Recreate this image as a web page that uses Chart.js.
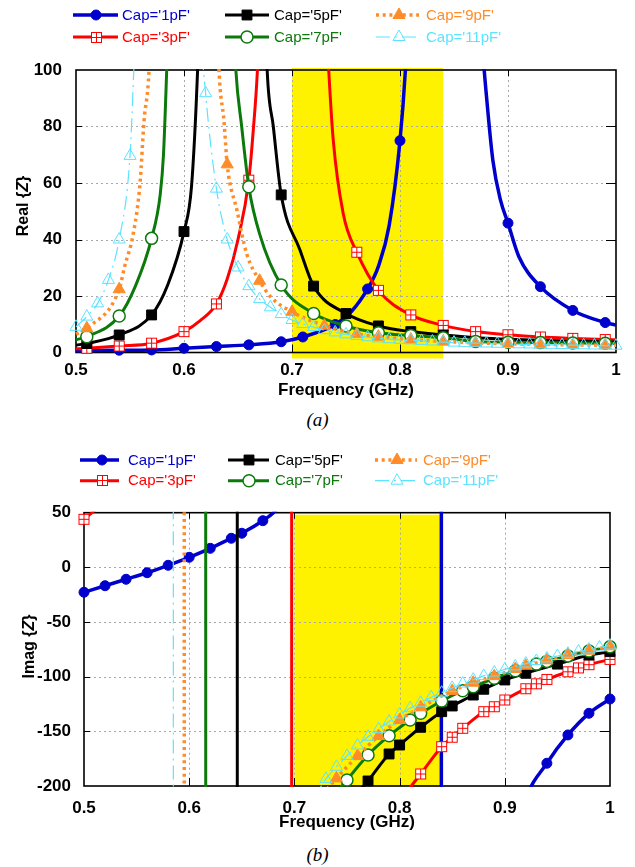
<!DOCTYPE html>
<html>
<head>
<meta charset="utf-8">
<script src="https://cdn.jsdelivr.net/npm/chart.js"></script>
<style>
  html, body { margin: 0; padding: 0; background: #fff; }
  body { width: 635px; height: 867px; position: relative; overflow: hidden; }
  .box { position: absolute; left: 0; width: 635px; height: 400px; }
  .cap { position: absolute; left: 0; width: 635px; text-align: center;
         font: italic 19px "Liberation Serif", "Times New Roman", serif; }
</style>
</head>
<body>
<div class="box" style="top:0"><canvas id="reChart" width="635" height="400"></canvas></div>
<div class="cap" style="top:409px">(a)</div>
<div class="box" style="top:440px"><canvas id="imChart" width="635" height="400"></canvas></div>
<div class="cap" style="top:844px">(b)</div>
<script>
// axes
const freqTicks = [0.5, 0.6, 0.7, 0.8, 0.9, 1.0];
const freqLabels = ['0.5', '0.6', '0.7', '0.8', '0.9', '1'];
const reTicks = [0, 20, 40, 60, 80, 100];
const imTicks = [-200, -150, -100, -50, 0, 50];
const band = [0.7, 0.84];   // highlighted band, GHz

const caps = ["Cap='1pF'", "Cap='3pF'", "Cap='5pF'", "Cap='7pF'", "Cap='9pF'", "Cap='11pF'"];

// [freq GHz, value, marker?]  (values past the axis limits are where the curve leaves the frame)
const re1pF = [[0.50,0.6,0],[0.54,0.8,1],[0.57,0.9,1],[0.60,1.5,1],[0.63,2.1,1],[0.66,2.7,1],[0.69,3.8,1],[0.71,5.5,1],[0.74,9.9,1],[0.755,14.5,0],[0.77,22.5,1],[0.78,30.5,0],[0.79,45,0],[0.80,75,1],[0.805,100,0],[0.81,140,0],[0.82,250,0],[0.84,900,0],[0.86,260,0],[0.872,140,0],[0.877,105,0],[0.88,91,0],[0.886,68,0],[0.893,54,0],[0.90,45.8,1],[0.91,34,0],[0.93,23.3,1],[0.96,14.9,1],[0.99,10.6,1],[1.0,9.7,0]];
const re3pF = [[0.50,1.3,0],[0.51,1.5,1],[0.54,2.3,1],[0.57,3.3,1],[0.60,7.4,1],[0.615,11.3,0],[0.63,17.2,1],[0.64,26,0],[0.65,40,0],[0.66,61,1],[0.664,78,0],[0.668,100,0],[0.675,170,0],[0.70,700,0],[0.725,170,0],[0.734,100,0],[0.738,76,0],[0.7475,49,0],[0.76,35.5,1],[0.78,22,1],[0.81,13.3,1],[0.84,9.6,1],[0.87,7.4,1],[0.90,6.3,1],[0.93,5.5,1],[0.96,5.0,1],[0.99,4.6,1],[1.0,4.5,0]];
const re5pF = [[0.50,2.6,0],[0.51,3.2,1],[0.54,6.2,1],[0.57,13.3,1],[0.585,24,0],[0.60,42.8,1],[0.607,59,0],[0.6126,100,0],[0.62,190,0],[0.645,800,0],[0.67,190,0],[0.677,100,0],[0.6827,80,0],[0.69,55.8,1],[0.7074,36.3,0],[0.72,23.5,1],[0.75,13.8,1],[0.78,9.4,1],[0.81,7.4,1],[0.84,6.2,1],[0.87,5.2,0],[0.90,4.7,0],[0.93,4.3,0],[0.96,4.0,0],[0.99,3.8,0],[1.0,3.7,0]];
const re7pF = [[0.50,4.5,0],[0.51,5.6,1],[0.54,12.9,1],[0.555,23.5,0],[0.57,40.4,1],[0.578,56,0],[0.581,70,0],[0.584,100,0],[0.59,170,0],[0.615,800,0],[0.64,170,0],[0.648,100,0],[0.6534,80,0],[0.66,58.7,1],[0.67,42,0],[0.69,23.9,1],[0.72,13.8,1],[0.75,9.4,1],[0.78,7.0,1],[0.81,6.0,1],[0.84,5.2,1],[0.87,3.9,1],[0.90,3.6,1],[0.93,3.5,1],[0.96,3.4,1],[0.99,3.3,1],[1.0,3.2,0]];
const re9pF = [[0.50,6.5,0],[0.51,8.6,1],[0.54,22.4,1],[0.545,30.4,0],[0.553,42,0],[0.5593,60,0],[0.563,82,0],[0.5676,100,0],[0.575,190,0],[0.60,800,0],[0.625,190,0],[0.6324,100,0],[0.637,82,0],[0.64,66.6,1],[0.649,50.4,0],[0.658,35,0],[0.67,25.4,1],[0.68,19.8,0],[0.70,14.4,1],[0.73,9.5,1],[0.76,6.6,1],[0.78,5.6,1],[0.81,4.6,1],[0.84,3.9,1],[0.87,3.4,1],[0.90,3.1,1],[0.93,2.9,1],[0.96,2.7,1],[0.99,2.6,1],[1.0,2.6,0]];
const re11pF = [[0.50,9.1,1],[0.51,12.7,1],[0.52,17.4,1],[0.53,25.7,1],[0.54,40,1],[0.55,69.6,1],[0.553,95,0],[0.556,125,0],[0.565,250,0],[0.585,800,0],[0.605,250,0],[0.614,125,0],[0.62,91.8,1],[0.63,58,1],[0.64,40,1],[0.65,30.1,1],[0.66,23.5,1],[0.67,18.9,1],[0.68,16,1],[0.69,13.6,1],[0.70,11.5,1],[0.71,10.1,1],[0.72,9.0,1],[0.73,7.9,1],[0.74,7.1,1],[0.75,6.4,1],[0.76,5.9,1],[0.77,5.4,1],[0.78,5.0,1],[0.79,4.7,1],[0.80,4.5,1],[0.81,4.3,1],[0.82,4.1,1],[0.83,3.9,1],[0.84,3.7,1],[0.85,3.5,1],[0.86,3.4,1],[0.87,3.3,1],[0.88,3.2,1],[0.89,3.1,1],[0.90,3.0,1],[0.91,2.9,1],[0.92,2.85,1],[0.93,2.8,1],[0.94,2.7,1],[0.95,2.65,1],[0.96,2.6,1],[0.97,2.55,1],[0.98,2.5,1],[0.99,2.45,1],[1.0,2.4,1]];

const im1pF = [[0.50,-22.8,1],[0.52,-16.8,1],[0.54,-10.9,1],[0.56,-4.9,1],[0.58,1.9,1],[0.60,9.2,1],[0.62,17.4,1],[0.64,26.6,1],[0.65,31.2,1],[0.67,42.7,1],[0.68,50,0],[0.72,95,0],[0.78,200,0],[0.82,600,0],[0.8395,3000,0],[0.8399,-3000,0],[0.86,-700,0],[0.90,-300,0],[0.92,-213,0],[0.94,-179.2,1],[0.96,-153.3,1],[0.98,-133.5,1],[1.0,-120.4,1]];
const im3pF = [[0.50,44,1],[0.51,52,0],[0.55,90,0],[0.62,200,0],[0.68,700,0],[0.6972,3000,0],[0.6976,-3000,0],[0.75,-400,0],[0.78,-255,0],[0.80,-216,0],[0.81,-201.5,0],[0.82,-189,1],[0.84,-164,1],[0.85,-155.4,1],[0.86,-147.2,1],[0.88,-132,1],[0.89,-127.5,1],[0.90,-121.3,1],[0.92,-111,1],[0.93,-106.5,1],[0.94,-102.5,1],[0.96,-95.5,1],[0.97,-92,1],[0.98,-89,1],[1.0,-84.2,1]];
const im5pF = [[0.50,100,0],[0.60,250,0],[0.6455,3000,0],[0.6459,-3000,0],[0.70,-500,0],[0.74,-250,0],[0.76,-207.5,0],[0.77,-195.4,1],[0.79,-170.7,1],[0.80,-162.5,1],[0.82,-146.3,1],[0.84,-132,1],[0.85,-126.8,1],[0.87,-116.8,1],[0.88,-111.5,1],[0.90,-103,1],[0.92,-96.9,1],[0.95,-88.5,1],[0.98,-80.2,1],[1.0,-77.1,1]];
const im7pF = [[0.50,120,0],[0.58,250,0],[0.6155,3000,0],[0.6159,-3000,0],[0.68,-450,0],[0.72,-250,0],[0.74,-207,0],[0.75,-194.5,1],[0.77,-171.6,1],[0.79,-154,1],[0.81,-139.6,1],[0.82,-133.5,1],[0.84,-122.2,1],[0.86,-112.8,1],[0.87,-109.2,1],[0.89,-101.5,1],[0.91,-94.5,1],[0.93,-88.5,1],[0.94,-86,1],[0.96,-81,1],[0.98,-76.5,1],[1.0,-72.6,1]];
const im9pF = [[0.50,140,0],[0.56,200,0],[0.5951,3000,0],[0.5955,-3000,0],[0.67,-450,0],[0.71,-250,0],[0.73,-205,0],[0.74,-193,1],[0.76,-172.6,1],[0.78,-154.3,1],[0.80,-139.6,1],[0.82,-128,1],[0.85,-113,1],[0.87,-105.5,1],[0.89,-99.5,1],[0.91,-93,1],[0.92,-90,1],[0.94,-85,1],[0.96,-80.2,1],[0.98,-76.2,1],[1.0,-72.2,1]];
const im11pF = [[0.50,160,0],[0.55,250,0],[0.5847,3000,0],[0.5851,-3000,0],[0.66,-450,0],[0.70,-260,0],[0.72,-210,0],[0.73,-193.5,1],[0.74,-182.5,1],[0.75,-172.5,1],[0.76,-163,1],[0.77,-155,1],[0.78,-148,1],[0.79,-141,1],[0.80,-134.5,1],[0.81,-128.8,1],[0.82,-123.8,1],[0.83,-118.8,1],[0.84,-114.6,1],[0.85,-110.2,1],[0.86,-106.3,1],[0.87,-102.7,1],[0.88,-99.3,1],[0.89,-96.2,1],[0.90,-93.3,1],[0.91,-90.6,1],[0.92,-88,1],[0.93,-85.6,1],[0.94,-83.3,1],[0.95,-81.1,1],[0.96,-79,1],[0.97,-77,1],[0.98,-75.1,1],[0.99,-73.3,1],[1.0,-71.5,1]];

// series styles
const colors = ['#0000cd', '#ff0000', '#000000', '#0b7a0b', '#ff8c28', '#5ce3ff'];
const lineW = [3.5, 3, 3, 3, 3.5, 1.2];
const dashes = [[], [], [], [], [3, 3.7], [14, 5, 2, 5]];
const markR = [5, 6.5, 7, 6, 7, 7];
const markFill = [colors[0], '#ffffff', '#000000', '#ffffff', colors[4], 'rgba(0,0,0,0)'];
const markBW = [1, 1, 1, 1.5, 1, 1];

// open square with a cross for the 3pF curve
const boxCross = document.createElement('canvas');
boxCross.width = boxCross.height = 13;
(function () {
  const g = boxCross.getContext('2d');
  g.fillStyle = '#fff';
  g.fillRect(1, 1, 11, 11);
  g.strokeStyle = colors[1];
  g.lineWidth = 1;
  g.strokeRect(1.5, 1.5, 10, 10);
  g.beginPath();
  g.moveTo(6.5, 1.5); g.lineTo(6.5, 11.5);
  g.moveTo(1.5, 6.5); g.lineTo(11.5, 6.5);
  g.stroke();
})();
const markStyle = ['circle', boxCross, 'rect', 'circle', 'triangle', 'triangle'];

const FONT = '"Liberation Sans", Arial, Helvetica, sans-serif';

function buildSets(series, clip) {
  return series.map((pts, i) => ({
    label: caps[i],
    data: pts.map(p => ({ x: p[0], y: p[1], m: p[2] })),
    borderColor: colors[i],
    borderWidth: lineW[i],
    borderDash: dashes[i],
    borderCapStyle: 'butt',
    cubicInterpolationMode: 'monotone',
    capBezierPoints: false,
    pointStyle: markStyle[i],
    pointRadius: c => (c.raw && c.raw.m ? markR[i] : 0),
    pointHoverRadius: 0,
    pointBackgroundColor: markFill[i],
    pointBorderColor: colors[i],
    pointBorderWidth: markBW[i],
    fill: false,
    clip: clip,
    order: 5 - i
  }));
}

function drawMark(ctx, i, x, y) {
  const st = markStyle[i], r = markR[i];
  if (typeof st !== 'string') {
    ctx.drawImage(st, Math.round(x - st.width / 2), Math.round(y - st.height / 2));
    return;
  }
  ctx.beginPath();
  if (st === 'circle') {
    ctx.arc(x, y, r, 0, Math.PI * 2);
  } else if (st === 'rect') {
    const s = r * Math.SQRT1_2;
    ctx.rect(x - s, y - s, 2 * s, 2 * s);
  } else {
    for (let k = 0; k < 3; k++) {
      const a = k * 2 * Math.PI / 3;
      const px = x + Math.sin(a) * r, py = y - Math.cos(a) * r;
      k ? ctx.lineTo(px, py) : ctx.moveTo(px, py);
    }
    ctx.closePath();
  }
  ctx.fillStyle = markFill[i];
  ctx.fill();
  ctx.lineWidth = markBW[i];
  ctx.strokeStyle = colors[i];
  ctx.stroke();
}

// text with an italic piece, centred on (0,0) of the current transform
function mixedText(ctx, parts, size) {
  const fonts = parts.map(p => (p[1] ? 'italic ' : '') + 'bold ' + size + 'px ' + FONT);
  const widths = parts.map((p, k) => { ctx.font = fonts[k]; return ctx.measureText(p[0]).width; });
  let x = -widths.reduce((s, w) => s + w, 0) / 2;
  ctx.textAlign = 'left';
  ctx.textBaseline = 'middle';
  parts.forEach((p, k) => { ctx.font = fonts[k]; ctx.fillText(p[0], x, 0); x += widths[k]; });
}

// band, dotted grid, frame, axis titles and the key
function decor(o) {
  return {
    id: 'decor',
    beforeDatasetsDraw(chart) {
      const { ctx, chartArea: a, scales: { x, y } } = chart;
      ctx.save();
      const b1 = x.getPixelForValue(band[0]), b2 = x.getPixelForValue(band[1]);
      ctx.fillStyle = '#fff200';
      ctx.fillRect(b1, a.top - o.bandTop, b2 - b1, a.bottom - a.top + o.bandTop + o.bandBottom);

      ctx.strokeStyle = '#a8a8a8';
      ctx.lineWidth = 1;
      ctx.setLineDash([2, 3]);
      ctx.beginPath();
      freqTicks.slice(1, -1).forEach(v => {
        const px = Math.round(x.getPixelForValue(v)) + 0.5;
        ctx.moveTo(px, a.top); ctx.lineTo(px, a.bottom);
      });
      o.yTicks.slice(1, -1).forEach(v => {
        const py = Math.round(y.getPixelForValue(v)) + 0.5;
        ctx.moveTo(a.left, py); ctx.lineTo(a.right, py);
      });
      ctx.stroke();

      ctx.setLineDash([]);
      ctx.strokeStyle = '#000';
      ctx.beginPath();
      freqTicks.slice(1, -1).forEach(v => {
        const px = Math.round(x.getPixelForValue(v)) + 0.5;
        ctx.moveTo(px, a.bottom); ctx.lineTo(px, a.bottom - 8);
        ctx.moveTo(px, a.top); ctx.lineTo(px, a.top + 6);
      });
      o.yTicks.slice(1, -1).forEach(v => {
        const py = Math.round(y.getPixelForValue(v)) + 0.5;
        ctx.moveTo(a.left, py); ctx.lineTo(a.left + 6, py);
        ctx.moveTo(a.right, py); ctx.lineTo(a.right - 10, py);
      });
      ctx.stroke();
      ctx.lineWidth = 1.6;
      ctx.strokeRect(a.left, a.top, a.right - a.left, a.bottom - a.top);

      ctx.fillStyle = '#000';
      ctx.font = 'bold 17px ' + FONT;
      ctx.textAlign = 'center';
      ctx.textBaseline = 'alphabetic';
      ctx.fillText('Frequency (GHz)', (a.left + a.right) / 2, o.xTitleY);

      ctx.translate(o.yTitle[0], o.yTitle[1]);
      ctx.rotate(-Math.PI / 2);
      mixedText(ctx, o.yTitleParts, 16);
      ctx.restore();
    },
    afterDraw(chart) {
      const ctx = chart.ctx;
      ctx.save();
      caps.forEach((name, i) => {
        const col = o.cols[Math.floor(i / 2)], y = o.rows[i % 2];
        ctx.strokeStyle = colors[i];
        ctx.lineWidth = lineW[i];
        ctx.setLineDash(dashes[i]);
        ctx.beginPath();
        ctx.moveTo(col[0], y); ctx.lineTo(col[1], y);
        ctx.stroke();
        ctx.setLineDash([]);
        drawMark(ctx, i, col[2], y);
        ctx.fillStyle = colors[i];
        ctx.font = '15px ' + FONT;
        ctx.textAlign = 'left';
        ctx.textBaseline = 'middle';
        ctx.fillText(name, col[3], y + 0.5);
      });
      ctx.restore();
    }
  };
}

function makeChart(id, series, yTicks, area, extra) {
  const tickFont = { family: FONT, size: 17, weight: 'bold' };
  return new Chart(document.getElementById(id), {
    type: 'line',
    data: { datasets: buildSets(series, extra.clip) },
    options: {
      responsive: false,
      animation: false,
      events: [],
      layout: { padding: { top: area.top, right: area.right, left: 0, bottom: 0 } },
      plugins: { legend: { display: false }, tooltip: { enabled: false } },
      scales: {
        x: {
          type: 'linear', min: 0.5, max: 1.0,
          grid: { display: false, drawTicks: false }, border: { display: false },
          afterBuildTicks: s => { s.ticks = freqTicks.map(v => ({ value: v })); },
          afterFit: s => { s.height = area.xh; },
          ticks: {
            autoSkip: false, maxRotation: 0, color: '#000', font: tickFont, padding: extra.xPad,
            callback: v => freqLabels[freqTicks.findIndex(t => Math.abs(t - v) < 1e-9)]
          }
        },
        y: {
          type: 'linear', min: yTicks[0], max: yTicks[yTicks.length - 1],
          grid: { display: false, drawTicks: false }, border: { display: false },
          afterBuildTicks: s => { s.ticks = yTicks.map(v => ({ value: v })); },
          afterFit: s => { s.width = area.left; },
          ticks: { autoSkip: false, color: '#000', font: tickFont, padding: extra.yPad, callback: v => String(v) }
        }
      }
    },
    plugins: [decor(extra)]
  });
}

makeChart('reChart', [re1pF, re3pF, re5pF, re7pF, re9pF, re11pF], reTicks,
  { top: 70, right: 19, left: 76, xh: 47.5 },
  {
    clip: { left: 8, right: 8, top: 1, bottom: 8 }, xPad: 8, yPad: 14,
    yTicks: reTicks, bandTop: 2, bandBottom: 6, xTitleY: 395,
    yTitle: [23.5, 206], yTitleParts: [['Real {', false], ['Z', true], ['}', false]],
    rows: [15, 37],
    cols: [[73, 118, 96, 122], [225, 269, 247, 274], [376, 419, 399, 426]]
  });

makeChart('imChart', [im1pF, im3pF, im5pF, im7pF, im9pF, im11pF], imTicks,
  { top: 72.7, right: 25, left: 84, xh: 54 },
  {
    clip: { left: 8, right: 8, top: 1, bottom: 1 }, xPad: 12, yPad: 13,
    yTicks: imTicks, bandTop: -2, bandBottom: 0, xTitleY: 387,
    yTitle: [30, 206.5], yTitleParts: [['Imag {', false], ['Z', true], ['}', false]],
    rows: [20, 40.7],
    cols: [[80, 119, 102, 128], [228, 269, 249, 275], [375, 417, 397, 423]]
  });
</script>
</body>
</html>
